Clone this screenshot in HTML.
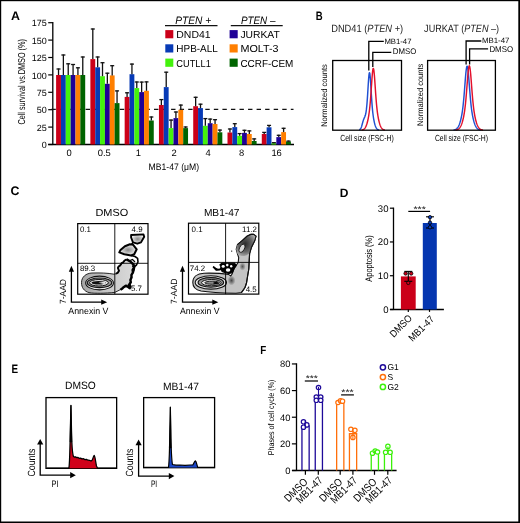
<!DOCTYPE html>
<html><head><meta charset="utf-8"><style>
html,body{margin:0;padding:0;background:#fff;}
svg{display:block;will-change:transform;}
text{font-family:"Liberation Sans", sans-serif;text-rendering:geometricPrecision;}
</style></head><body>
<svg width="520" height="523" viewBox="0 0 520 523">
<rect x="0" y="0" width="520" height="523" fill="#000"/>
<rect x="1.2" y="1.2" width="517.1" height="520.3" fill="#fff"/>
<text x="11" y="20.2" font-size="12.4" text-anchor="start" font-weight="bold" fill="#000" >A</text>
<line x1="52.8" y1="22.0" x2="52.8" y2="145.1" stroke="#000" stroke-width="1.3"/>
<line x1="48.2" y1="144.5" x2="294" y2="144.5" stroke="#000" stroke-width="1.3"/>
<line x1="48.2" y1="144.50" x2="52.8" y2="144.50" stroke="#000" stroke-width="1.2"/>
<text x="46.8" y="148.2" font-size="9.0" text-anchor="end" >0</text>
<line x1="48.2" y1="127.10" x2="52.8" y2="127.10" stroke="#000" stroke-width="1.2"/>
<text x="46.8" y="130.79999999999998" font-size="9.0" text-anchor="end" >25</text>
<line x1="48.2" y1="109.70" x2="52.8" y2="109.70" stroke="#000" stroke-width="1.2"/>
<text x="46.8" y="113.4" font-size="9.0" text-anchor="end" >50</text>
<line x1="48.2" y1="92.30" x2="52.8" y2="92.30" stroke="#000" stroke-width="1.2"/>
<text x="46.8" y="96.00000000000001" font-size="9.0" text-anchor="end" >75</text>
<line x1="48.2" y1="74.90" x2="52.8" y2="74.90" stroke="#000" stroke-width="1.2"/>
<text x="46.8" y="78.60000000000001" font-size="9.0" text-anchor="end" >100</text>
<line x1="48.2" y1="57.50" x2="52.8" y2="57.50" stroke="#000" stroke-width="1.2"/>
<text x="46.8" y="61.2" font-size="9.0" text-anchor="end" >125</text>
<line x1="48.2" y1="40.10" x2="52.8" y2="40.10" stroke="#000" stroke-width="1.2"/>
<text x="46.8" y="43.80000000000001" font-size="9.0" text-anchor="end" >150</text>
<line x1="48.2" y1="22.70" x2="52.8" y2="22.70" stroke="#000" stroke-width="1.2"/>
<text x="46.8" y="26.400000000000002" font-size="9.0" text-anchor="end" >175</text>
<text x="20.4" y="81.85" font-size="10.0" text-anchor="middle" textLength="85.5" lengthAdjust="spacingAndGlyphs" transform="rotate(-90 20.4 81.85)" dy="4.2">Cell survival vs.DMSO (%)</text>
<text x="69.05" y="156.1" font-size="9.4" text-anchor="middle" >0</text>
<text x="104.25" y="156.1" font-size="9.4" text-anchor="middle" >0.5</text>
<text x="138.3" y="156.1" font-size="9.4" text-anchor="middle" >1</text>
<text x="174.1" y="156.1" font-size="9.4" text-anchor="middle" >2</text>
<text x="208.2" y="156.1" font-size="9.4" text-anchor="middle" >4</text>
<text x="241.6" y="156.1" font-size="9.4" text-anchor="middle" >8</text>
<text x="276.6" y="156.1" font-size="9.4" text-anchor="middle" >16</text>
<text x="173.8" y="170.2" font-size="9.3" text-anchor="middle" textLength="50.5" lengthAdjust="spacingAndGlyphs" >MB1-47 (μM)</text>
<line x1="51.4" y1="109.45" x2="293.5" y2="109.45" stroke="#111" stroke-width="1.2" stroke-dasharray="4.4 4.15"/>
<rect x="56.10" y="75.0" width="4.85" height="69.50" fill="#cb0019"/>
<rect x="60.95" y="75.0" width="4.85" height="69.50" fill="#073ab6"/>
<rect x="65.80" y="75.0" width="4.85" height="69.50" fill="#44f20c"/>
<rect x="70.65" y="75.0" width="4.85" height="69.50" fill="#1e0096"/>
<rect x="75.50" y="75.0" width="4.85" height="69.50" fill="#ff7f00"/>
<rect x="80.35" y="75.0" width="4.85" height="69.50" fill="#006400"/>
<rect x="90.38" y="59.1" width="4.85" height="85.40" fill="#cb0019"/>
<rect x="95.23" y="67.3" width="4.85" height="77.20" fill="#073ab6"/>
<rect x="100.08" y="76.2" width="4.85" height="68.30" fill="#44f20c"/>
<rect x="104.93" y="83.8" width="4.85" height="60.70" fill="#1e0096"/>
<rect x="109.78" y="75.4" width="4.85" height="69.10" fill="#ff7f00"/>
<rect x="114.63" y="103.1" width="4.85" height="41.40" fill="#006400"/>
<rect x="124.66" y="96.9" width="4.85" height="47.60" fill="#cb0019"/>
<rect x="129.51" y="74.2" width="4.85" height="70.30" fill="#073ab6"/>
<rect x="134.36" y="88.1" width="4.85" height="56.40" fill="#44f20c"/>
<rect x="139.21" y="92.1" width="4.85" height="52.40" fill="#1e0096"/>
<rect x="144.06" y="90.8" width="4.85" height="53.70" fill="#ff7f00"/>
<rect x="148.91" y="120.5" width="4.85" height="24.00" fill="#006400"/>
<rect x="158.94" y="105.0" width="4.85" height="39.50" fill="#cb0019"/>
<rect x="163.79" y="87.1" width="4.85" height="57.40" fill="#073ab6"/>
<rect x="168.64" y="128.1" width="4.85" height="16.40" fill="#44f20c"/>
<rect x="173.49" y="118.1" width="4.85" height="26.40" fill="#1e0096"/>
<rect x="178.34" y="109.8" width="4.85" height="34.70" fill="#ff7f00"/>
<rect x="183.19" y="128.1" width="4.85" height="16.40" fill="#006400"/>
<rect x="193.22" y="106.2" width="4.85" height="38.30" fill="#cb0019"/>
<rect x="198.07" y="108.1" width="4.85" height="36.40" fill="#073ab6"/>
<rect x="202.92" y="125.8" width="4.85" height="18.70" fill="#44f20c"/>
<rect x="207.77" y="123.2" width="4.85" height="21.30" fill="#1e0096"/>
<rect x="212.62" y="124.0" width="4.85" height="20.50" fill="#ff7f00"/>
<rect x="217.47" y="132.3" width="4.85" height="12.20" fill="#006400"/>
<rect x="227.50" y="132.5" width="4.85" height="12.00" fill="#cb0019"/>
<rect x="232.35" y="127.1" width="4.85" height="17.40" fill="#073ab6"/>
<rect x="237.20" y="135.8" width="4.85" height="8.70" fill="#44f20c"/>
<rect x="242.05" y="132.9" width="4.85" height="11.60" fill="#1e0096"/>
<rect x="246.90" y="134.0" width="4.85" height="10.50" fill="#ff7f00"/>
<rect x="251.75" y="141.0" width="4.85" height="3.50" fill="#006400"/>
<rect x="261.78" y="134.0" width="4.85" height="10.50" fill="#cb0019"/>
<rect x="266.63" y="127.3" width="4.85" height="17.20" fill="#073ab6"/>
<rect x="271.48" y="143.2" width="4.85" height="1.30" fill="#44f20c"/>
<rect x="276.33" y="137.1" width="4.85" height="7.40" fill="#1e0096"/>
<rect x="281.18" y="132.1" width="4.85" height="12.40" fill="#ff7f00"/>
<rect x="286.03" y="141.5" width="4.85" height="3.00" fill="#006400"/>
<line x1="58.52" y1="68.5" x2="58.52" y2="75.0" stroke="#111" stroke-width="1.3"/>
<line x1="56.52" y1="69.0" x2="60.52" y2="69.0" stroke="#111" stroke-width="1.3"/>
<line x1="63.38" y1="54.5" x2="63.38" y2="75.0" stroke="#111" stroke-width="1.3"/>
<line x1="61.38" y1="55.0" x2="65.38" y2="55.0" stroke="#111" stroke-width="1.3"/>
<line x1="68.22" y1="63.3" x2="68.22" y2="75.0" stroke="#111" stroke-width="1.3"/>
<line x1="66.22" y1="63.8" x2="70.22" y2="63.8" stroke="#111" stroke-width="1.3"/>
<line x1="73.08" y1="64.0" x2="73.08" y2="75.0" stroke="#111" stroke-width="1.3"/>
<line x1="71.08" y1="64.5" x2="75.08" y2="64.5" stroke="#111" stroke-width="1.3"/>
<line x1="77.92" y1="67.3" x2="77.92" y2="75.0" stroke="#111" stroke-width="1.3"/>
<line x1="75.92" y1="67.8" x2="79.92" y2="67.8" stroke="#111" stroke-width="1.3"/>
<line x1="82.77" y1="56.5" x2="82.77" y2="75.0" stroke="#111" stroke-width="1.3"/>
<line x1="80.77" y1="57.0" x2="84.77" y2="57.0" stroke="#111" stroke-width="1.3"/>
<line x1="92.80" y1="28.5" x2="92.80" y2="59.1" stroke="#111" stroke-width="1.3"/>
<line x1="90.80" y1="29.0" x2="94.80" y2="29.0" stroke="#111" stroke-width="1.3"/>
<line x1="97.65" y1="56.5" x2="97.65" y2="67.3" stroke="#111" stroke-width="1.3"/>
<line x1="95.65" y1="57.0" x2="99.65" y2="57.0" stroke="#111" stroke-width="1.3"/>
<line x1="102.50" y1="62.2" x2="102.50" y2="76.2" stroke="#111" stroke-width="1.3"/>
<line x1="100.50" y1="62.7" x2="104.50" y2="62.7" stroke="#111" stroke-width="1.3"/>
<line x1="107.35" y1="72.7" x2="107.35" y2="83.8" stroke="#111" stroke-width="1.3"/>
<line x1="105.35" y1="73.2" x2="109.35" y2="73.2" stroke="#111" stroke-width="1.3"/>
<line x1="112.20" y1="65.2" x2="112.20" y2="75.4" stroke="#111" stroke-width="1.3"/>
<line x1="110.20" y1="65.7" x2="114.20" y2="65.7" stroke="#111" stroke-width="1.3"/>
<line x1="117.05" y1="90.4" x2="117.05" y2="103.1" stroke="#111" stroke-width="1.3"/>
<line x1="115.05" y1="90.9" x2="119.05" y2="90.9" stroke="#111" stroke-width="1.3"/>
<line x1="127.08" y1="92.3" x2="127.08" y2="96.9" stroke="#111" stroke-width="1.3"/>
<line x1="125.08" y1="92.8" x2="129.08" y2="92.8" stroke="#111" stroke-width="1.3"/>
<line x1="131.94" y1="63.6" x2="131.94" y2="74.2" stroke="#111" stroke-width="1.3"/>
<line x1="129.94" y1="64.1" x2="133.94" y2="64.1" stroke="#111" stroke-width="1.3"/>
<line x1="136.78" y1="81.5" x2="136.78" y2="88.1" stroke="#111" stroke-width="1.3"/>
<line x1="134.78" y1="82.0" x2="138.78" y2="82.0" stroke="#111" stroke-width="1.3"/>
<line x1="141.64" y1="81.6" x2="141.64" y2="92.1" stroke="#111" stroke-width="1.3"/>
<line x1="139.64" y1="82.1" x2="143.64" y2="82.1" stroke="#111" stroke-width="1.3"/>
<line x1="146.49" y1="81.4" x2="146.49" y2="90.8" stroke="#111" stroke-width="1.3"/>
<line x1="144.49" y1="81.9" x2="148.49" y2="81.9" stroke="#111" stroke-width="1.3"/>
<line x1="151.34" y1="116.5" x2="151.34" y2="120.5" stroke="#111" stroke-width="1.3"/>
<line x1="149.34" y1="117.0" x2="153.34" y2="117.0" stroke="#111" stroke-width="1.3"/>
<line x1="161.37" y1="99.1" x2="161.37" y2="105.0" stroke="#111" stroke-width="1.3"/>
<line x1="159.37" y1="99.6" x2="163.37" y2="99.6" stroke="#111" stroke-width="1.3"/>
<line x1="166.22" y1="71.7" x2="166.22" y2="87.1" stroke="#111" stroke-width="1.3"/>
<line x1="164.22" y1="72.2" x2="168.22" y2="72.2" stroke="#111" stroke-width="1.3"/>
<line x1="171.06" y1="119.6" x2="171.06" y2="128.1" stroke="#111" stroke-width="1.3"/>
<line x1="169.06" y1="120.1" x2="173.06" y2="120.1" stroke="#111" stroke-width="1.3"/>
<line x1="175.92" y1="111.5" x2="175.92" y2="118.1" stroke="#111" stroke-width="1.3"/>
<line x1="173.92" y1="112.0" x2="177.92" y2="112.0" stroke="#111" stroke-width="1.3"/>
<line x1="180.77" y1="104.6" x2="180.77" y2="109.8" stroke="#111" stroke-width="1.3"/>
<line x1="178.77" y1="105.1" x2="182.77" y2="105.1" stroke="#111" stroke-width="1.3"/>
<line x1="185.62" y1="126.5" x2="185.62" y2="128.1" stroke="#111" stroke-width="1.3"/>
<line x1="183.62" y1="127.0" x2="187.62" y2="127.0" stroke="#111" stroke-width="1.3"/>
<line x1="195.65" y1="96.8" x2="195.65" y2="106.2" stroke="#111" stroke-width="1.3"/>
<line x1="193.65" y1="97.3" x2="197.65" y2="97.3" stroke="#111" stroke-width="1.3"/>
<line x1="200.50" y1="103.7" x2="200.50" y2="108.1" stroke="#111" stroke-width="1.3"/>
<line x1="198.50" y1="104.2" x2="202.50" y2="104.2" stroke="#111" stroke-width="1.3"/>
<line x1="205.34" y1="118.1" x2="205.34" y2="125.8" stroke="#111" stroke-width="1.3"/>
<line x1="203.34" y1="118.6" x2="207.34" y2="118.6" stroke="#111" stroke-width="1.3"/>
<line x1="210.20" y1="118.6" x2="210.20" y2="123.2" stroke="#111" stroke-width="1.3"/>
<line x1="208.20" y1="119.1" x2="212.20" y2="119.1" stroke="#111" stroke-width="1.3"/>
<line x1="215.05" y1="119.2" x2="215.05" y2="124.0" stroke="#111" stroke-width="1.3"/>
<line x1="213.05" y1="119.7" x2="217.05" y2="119.7" stroke="#111" stroke-width="1.3"/>
<line x1="219.90" y1="129.6" x2="219.90" y2="132.3" stroke="#111" stroke-width="1.3"/>
<line x1="217.90" y1="130.1" x2="221.90" y2="130.1" stroke="#111" stroke-width="1.3"/>
<line x1="229.93" y1="128.5" x2="229.93" y2="132.5" stroke="#111" stroke-width="1.3"/>
<line x1="227.93" y1="129.0" x2="231.93" y2="129.0" stroke="#111" stroke-width="1.3"/>
<line x1="234.78" y1="123.2" x2="234.78" y2="127.1" stroke="#111" stroke-width="1.3"/>
<line x1="232.78" y1="123.7" x2="236.78" y2="123.7" stroke="#111" stroke-width="1.3"/>
<line x1="239.62" y1="133.1" x2="239.62" y2="135.8" stroke="#111" stroke-width="1.3"/>
<line x1="237.62" y1="133.6" x2="241.62" y2="133.6" stroke="#111" stroke-width="1.3"/>
<line x1="244.48" y1="129.8" x2="244.48" y2="132.9" stroke="#111" stroke-width="1.3"/>
<line x1="242.48" y1="130.3" x2="246.48" y2="130.3" stroke="#111" stroke-width="1.3"/>
<line x1="249.33" y1="130.4" x2="249.33" y2="134.0" stroke="#111" stroke-width="1.3"/>
<line x1="247.33" y1="130.9" x2="251.33" y2="130.9" stroke="#111" stroke-width="1.3"/>
<line x1="254.18" y1="138.4" x2="254.18" y2="141.0" stroke="#111" stroke-width="1.3"/>
<line x1="252.18" y1="138.9" x2="256.18" y2="138.9" stroke="#111" stroke-width="1.3"/>
<line x1="264.21" y1="131.9" x2="264.21" y2="134.0" stroke="#111" stroke-width="1.3"/>
<line x1="262.21" y1="132.4" x2="266.21" y2="132.4" stroke="#111" stroke-width="1.3"/>
<line x1="269.06" y1="124.9" x2="269.06" y2="127.3" stroke="#111" stroke-width="1.3"/>
<line x1="267.06" y1="125.4" x2="271.06" y2="125.4" stroke="#111" stroke-width="1.3"/>
<line x1="273.91" y1="142.2" x2="273.91" y2="143.2" stroke="#111" stroke-width="1.3"/>
<line x1="271.91" y1="142.7" x2="275.91" y2="142.7" stroke="#111" stroke-width="1.3"/>
<line x1="278.76" y1="134.8" x2="278.76" y2="137.1" stroke="#111" stroke-width="1.3"/>
<line x1="276.76" y1="135.3" x2="280.76" y2="135.3" stroke="#111" stroke-width="1.3"/>
<line x1="283.61" y1="127.8" x2="283.61" y2="132.1" stroke="#111" stroke-width="1.3"/>
<line x1="281.61" y1="128.3" x2="285.61" y2="128.3" stroke="#111" stroke-width="1.3"/>
<line x1="288.46" y1="140.6" x2="288.46" y2="141.5" stroke="#111" stroke-width="1.3"/>
<line x1="286.46" y1="141.1" x2="290.46" y2="141.1" stroke="#111" stroke-width="1.3"/>
<text x="193.2" y="23.7" font-size="10.8" text-anchor="middle" font-style="italic" textLength="36" lengthAdjust="spacingAndGlyphs" >PTEN +</text>
<line x1="165" y1="25.6" x2="217.5" y2="25.6" stroke="#111" stroke-width="1.4"/>
<text x="258.2" y="23.7" font-size="10.8" text-anchor="middle" font-style="italic" textLength="34.6" lengthAdjust="spacingAndGlyphs" >PTEN –</text>
<line x1="230.8" y1="25.6" x2="282.7" y2="25.6" stroke="#111" stroke-width="1.4"/>
<rect x="165.3" y="30.1" width="8" height="8.2" fill="#cb0019"/>
<text x="176.3" y="38.1" font-size="10.2" text-anchor="start" textLength="34.3" lengthAdjust="spacingAndGlyphs" >DND41</text>
<rect x="229.6" y="30.1" width="8.1" height="8.2" fill="#1e0096"/>
<text x="240.4" y="38.1" font-size="10.2" text-anchor="start" textLength="39.4" lengthAdjust="spacingAndGlyphs" >JURKAT</text>
<rect x="165.3" y="44.3" width="8" height="8.2" fill="#073ab6"/>
<text x="176.3" y="52.3" font-size="10.2" text-anchor="start" textLength="41.5" lengthAdjust="spacingAndGlyphs" >HPB-ALL</text>
<rect x="229.6" y="44.3" width="8.1" height="8.2" fill="#ff7f00"/>
<text x="240.4" y="52.3" font-size="10.2" text-anchor="start" textLength="38.2" lengthAdjust="spacingAndGlyphs" >MOLT-3</text>
<rect x="165.3" y="58.6" width="8" height="8.2" fill="#44f20c"/>
<text x="176.3" y="66.6" font-size="10.2" text-anchor="start" textLength="34.5" lengthAdjust="spacingAndGlyphs" >CUTLL1</text>
<rect x="229.6" y="58.6" width="8.1" height="8.2" fill="#006400"/>
<text x="240.4" y="66.6" font-size="10.2" text-anchor="start" textLength="53.0" lengthAdjust="spacingAndGlyphs" >CCRF-CEM</text>
<text x="315.8" y="19.6" font-size="12.2" text-anchor="start" font-weight="bold" fill="#000" textLength="6.9" lengthAdjust="spacingAndGlyphs" >B</text>
<text x="331.2" y="32.1" font-size="10.5" fill="#222" textLength="72" lengthAdjust="spacingAndGlyphs">DND41 (<tspan font-style="italic">PTEN</tspan> +)</text>
<text x="424.1" y="32.0" font-size="10.5" fill="#222" textLength="75" lengthAdjust="spacingAndGlyphs">JURKAT (<tspan font-style="italic">PTEN</tspan> –)</text>
<polyline points="359.15,129.99 359.40,129.89 359.65,129.76 359.90,129.58 360.15,129.34 360.40,129.03 360.65,128.64 360.90,128.16 361.15,127.59 361.40,126.92 361.65,126.17 361.90,125.34 362.15,124.46 362.40,123.54 362.65,122.63 362.90,121.73 363.15,120.89 363.40,120.10 363.65,119.40 363.90,118.76 364.15,118.18 364.40,117.64 364.65,117.09 364.90,116.51 365.15,115.84 365.40,115.03 365.65,114.04 365.90,112.81 366.15,111.29 366.40,109.43 366.65,107.18 366.90,104.51 367.15,101.41 367.40,97.92 367.65,94.09 367.90,90.05 368.15,85.97 368.40,82.05 368.65,78.54 368.90,75.67 369.15,73.67 369.40,72.68 369.65,72.80 369.90,74.00 370.15,76.21 370.40,79.24 370.65,82.89 370.90,86.90 371.15,91.06 371.40,95.17 371.65,99.07 371.90,102.66 372.15,105.90 372.40,108.78 372.65,111.31 372.90,113.54 373.15,115.50 373.40,117.23 373.65,118.78 373.90,120.17 374.15,121.42 374.40,122.55 374.65,123.57 374.90,124.48 375.15,125.30 375.40,126.03 375.65,126.68 375.90,127.24 376.15,127.73 376.40,128.15 376.65,128.52 376.90,128.83 377.15,129.08 377.40,129.30 377.65,129.48 377.90,129.63 378.15,129.75 378.40,129.85 378.65,129.92 378.90,129.99 379.15,130.04" fill="none" stroke="#1f50d2" stroke-width="1.45" stroke-linejoin="round"/>
<polyline points="361.65,130.04 361.90,129.99 362.15,129.94 362.40,129.88 362.65,129.81 362.90,129.72 363.15,129.62 363.40,129.50 363.65,129.35 363.90,129.18 364.15,128.98 364.40,128.75 364.65,128.48 364.90,128.17 365.15,127.82 365.40,127.42 365.65,126.97 365.90,126.46 366.15,125.90 366.40,125.27 366.65,124.57 366.90,123.81 367.15,122.97 367.40,122.06 367.65,121.06 367.90,119.97 368.15,118.78 368.40,117.48 368.65,116.05 368.90,114.47 369.15,112.73 369.40,110.79 369.65,108.64 369.90,106.24 370.15,103.58 370.40,100.65 370.65,97.46 370.90,94.05 371.15,90.46 371.40,86.77 371.65,83.09 371.90,79.54 372.15,76.26 372.40,73.39 372.65,71.08 372.90,69.43 373.15,68.55 373.40,68.47 373.65,69.19 373.90,70.69 374.15,72.88 374.40,75.65 374.65,78.85 374.90,82.36 375.15,86.03 375.40,89.73 375.65,93.34 375.90,96.80 376.15,100.03 376.40,103.01 376.65,105.73 376.90,108.18 377.15,110.38 377.40,112.36 377.65,114.14 377.90,115.75 378.15,117.20 378.40,118.53 378.65,119.74 378.90,120.85 379.15,121.87 379.40,122.80 379.65,123.65 379.90,124.43 380.15,125.14 380.40,125.78 380.65,126.35 380.90,126.87 381.15,127.33 381.40,127.74 381.65,128.10 381.90,128.42 382.15,128.69 382.40,128.93 382.65,129.14 382.90,129.32 383.15,129.47 383.40,129.60 383.65,129.70 383.90,129.80 384.15,129.87 384.40,129.93 384.65,129.99 384.90,130.03" fill="none" stroke="#e3102c" stroke-width="1.45" stroke-linejoin="round"/>
<polyline points="453.55,130.02 453.80,129.99 454.05,129.94 454.30,129.89 454.55,129.83 454.80,129.76 455.05,129.68 455.30,129.58 455.55,129.47 455.80,129.34 456.05,129.20 456.30,129.03 456.55,128.84 456.80,128.62 457.05,128.37 457.30,128.10 457.55,127.79 457.80,127.44 458.05,127.06 458.30,126.63 458.55,126.17 458.80,125.65 459.05,125.09 459.30,124.48 459.55,123.81 459.80,123.09 460.05,122.31 460.30,121.47 460.55,120.57 460.80,119.59 461.05,118.53 461.30,117.39 461.55,116.15 461.80,114.81 462.05,113.35 462.30,111.75 462.55,110.00 462.80,108.08 463.05,105.98 463.30,103.69 463.55,101.19 463.80,98.50 464.05,95.61 464.30,92.57 464.55,89.39 464.80,86.14 465.05,82.87 465.30,79.66 465.55,76.61 465.80,73.79 466.05,71.30 466.30,69.24 466.55,67.66 466.80,66.64 467.05,66.21 467.30,66.40 467.55,67.18 467.80,68.54 468.05,70.42 468.30,72.75 468.55,75.45 468.80,78.42 469.05,81.58 469.30,84.83 469.55,88.10 469.80,91.31 470.05,94.41 470.30,97.36 470.55,100.14 470.80,102.71 471.05,105.09 471.30,107.26 471.55,109.25 471.80,111.07 472.05,112.73 472.30,114.24 472.55,115.63 472.80,116.91 473.05,118.09 473.30,119.17 473.55,120.18 473.80,121.12 474.05,121.99 474.30,122.79 474.55,123.53 474.80,124.22 475.05,124.85 475.30,125.43 475.55,125.97 475.80,126.45 476.05,126.89 476.30,127.29 476.55,127.65 476.80,127.98 477.05,128.27 477.30,128.52 477.55,128.75 477.80,128.95 478.05,129.13 478.30,129.29 478.55,129.42 478.80,129.54 479.05,129.64 479.30,129.73 479.55,129.80 479.80,129.87 480.05,129.92 480.30,129.97 480.55,130.01 480.80,130.04" fill="none" stroke="#1f50d2" stroke-width="1.45" stroke-linejoin="round"/>
<polyline points="455.55,130.05 455.80,130.02 456.05,129.98 456.30,129.93 456.55,129.88 456.80,129.82 457.05,129.74 457.30,129.66 457.55,129.56 457.80,129.44 458.05,129.31 458.30,129.16 458.55,128.98 458.80,128.79 459.05,128.56 459.30,128.31 459.55,128.02 459.80,127.71 460.05,127.35 460.30,126.96 460.55,126.52 460.80,126.04 461.05,125.52 461.30,124.94 461.55,124.31 461.80,123.63 462.05,122.90 462.30,122.10 462.55,121.24 462.80,120.31 463.05,119.31 463.30,118.24 463.55,117.07 463.80,115.81 464.05,114.43 464.30,112.93 464.55,111.29 464.80,109.50 465.05,107.53 465.30,105.38 465.55,103.03 465.80,100.48 466.05,97.73 466.30,94.80 466.55,91.70 466.80,88.49 467.05,85.20 467.30,81.92 467.55,78.72 467.80,75.68 468.05,72.91 468.30,70.48 468.55,68.50 468.80,67.02 469.05,66.11 469.30,65.80 469.55,66.11 469.80,67.02 470.05,68.50 470.30,70.48 470.55,72.91 470.80,75.68 471.05,78.72 471.30,81.92 471.55,85.20 471.80,88.49 472.05,91.70 472.30,94.80 472.55,97.73 472.80,100.48 473.05,103.03 473.30,105.38 473.55,107.53 473.80,109.50 474.05,111.29 474.30,112.93 474.55,114.43 474.80,115.81 475.05,117.07 475.30,118.24 475.55,119.31 475.80,120.31 476.05,121.24 476.30,122.10 476.55,122.90 476.80,123.63 477.05,124.31 477.30,124.94 477.55,125.52 477.80,126.04 478.05,126.52 478.30,126.96 478.55,127.35 478.80,127.71 479.05,128.02 479.30,128.31 479.55,128.56 479.80,128.79 480.05,128.98 480.30,129.16 480.55,129.31 480.80,129.44 481.05,129.56 481.30,129.66 481.55,129.74 481.80,129.82 482.05,129.88 482.30,129.93 482.55,129.98 482.80,130.02 483.05,130.05" fill="none" stroke="#e3102c" stroke-width="1.45" stroke-linejoin="round"/>
<rect x="332.7" y="60.5" width="68.80000000000001" height="69.7" fill="none" stroke="#000" stroke-width="1.3"/>
<rect x="427.6" y="60.5" width="67.79999999999995" height="69.7" fill="none" stroke="#000" stroke-width="1.3"/>
<path d="M368.8 70.6 L368.8 41.4 L383.8 41.4" fill="none" stroke="#000" stroke-width="1.3"/>
<path d="M372.8 66.9 L372.8 52.4 L391.3 52.4" fill="none" stroke="#000" stroke-width="1.3"/>
<path d="M466.1 64.4 L466.1 41.0 L481.3 41.0" fill="none" stroke="#000" stroke-width="1.3"/>
<path d="M469.6 64.4 L469.6 48.8 L488.1 48.8" fill="none" stroke="#000" stroke-width="1.3"/>
<text x="384.4" y="44.2" font-size="7.8" text-anchor="start" textLength="27.1" lengthAdjust="spacingAndGlyphs" >MB1-47</text>
<text x="392.75" y="53.5" font-size="8.2" text-anchor="start" textLength="23.5" lengthAdjust="spacingAndGlyphs" >DMSO</text>
<text x="481.9" y="42.5" font-size="7.8" text-anchor="start" textLength="27.5" lengthAdjust="spacingAndGlyphs" >MB1-47</text>
<text x="489.4" y="52.1" font-size="8.4" text-anchor="start" textLength="23.7" lengthAdjust="spacingAndGlyphs" >DMSO</text>
<text x="323.8" y="95.5" font-size="8.2" text-anchor="middle" textLength="62.7" lengthAdjust="spacingAndGlyphs" transform="rotate(-90 323.8 95.5)" dy="3">Normalized counts</text>
<text x="420.0" y="94.8" font-size="8.2" text-anchor="middle" textLength="62.3" lengthAdjust="spacingAndGlyphs" transform="rotate(-90 420.0 94.8)" dy="3">Normalized counts</text>
<text x="367" y="141.0" font-size="8.8" text-anchor="middle" textLength="53.7" lengthAdjust="spacingAndGlyphs" >Cell size (FSC-H)</text>
<text x="461.5" y="140.7" font-size="8.8" text-anchor="middle" textLength="53.1" lengthAdjust="spacingAndGlyphs" >Cell size (FSC-H)</text>
<text x="10.6" y="195.2" font-size="12.4" text-anchor="start" font-weight="bold" fill="#000" >C</text>
<text x="111.8" y="216.0" font-size="10.3" text-anchor="middle" textLength="32.8" lengthAdjust="spacingAndGlyphs" >DMSO</text>
<rect x="77.7" y="223.6" width="70.3" height="70.6" fill="none" stroke="#000" stroke-width="1.2"/>
<text x="221.7" y="216.0" font-size="10.3" text-anchor="middle" textLength="35.6" lengthAdjust="spacingAndGlyphs" >MB1-47</text>
<rect x="188.5" y="223.2" width="70.30000000000001" height="70.90000000000003" fill="none" stroke="#000" stroke-width="1.2"/>
<defs><radialGradient id="gb"><stop offset="0" stop-color="#8a8a8a"/><stop offset="0.75" stop-color="#d8d8d8"/><stop offset="1" stop-color="#fbfbfb"/></radialGradient><radialGradient id="gr" cx="0.45" cy="0.35" r="0.7"><stop offset="0" stop-color="#b8b8b8"/><stop offset="1" stop-color="#f0f0f0"/></radialGradient><linearGradient id="gl" x1="0" y1="0" x2="1" y2="0"><stop offset="0" stop-color="#a4a4a4"/><stop offset="0.45" stop-color="#c6c6c6"/><stop offset="1" stop-color="#dadada"/></linearGradient><linearGradient id="gm" x1="0" y1="0" x2="0" y2="1"><stop offset="0" stop-color="#3a3a3a"/><stop offset="0.35" stop-color="#8a8a8a"/><stop offset="0.6" stop-color="#aaa"/><stop offset="1" stop-color="#e8e8e8"/></linearGradient></defs>
<path d="M81.5 282.6 C81.5 277 86 273.2 92 273.0 C100 272.8 108 273 114 274.2 L117.6 273.4 L119.0 270.8 L117.9 268.0 L120.2 265.4 L123.2 262.4 L126.7 259.4 L129.9 261.2 L134.0 266.7 L132.8 272.3 L131.0 277.3 L130.4 282.2 L129.2 284.7 L129.8 287.6 L126.7 286.6 L123.6 287.2 L120.4 289.6 L114.9 292.4 C105 293.4 95 293.6 89 292.6 C84 291.2 81.5 287.5 81.5 282.6 Z" fill="url(#gl)" stroke="#111" stroke-width="0.9"/>
<path d="M126.7 259.4 L129.9 261.2 L133.6 264.5 L134.0 267.2 L132.6 270 L133 272.3 L131.4 275 L131.6 277.3 L130.4 280 L130.8 282.2 L129.4 284.2 L130.4 286.4 L129.8 288.2 L127.6 286.6 L125.8 285.6 L123.6 287.2 L122 288.8 L120.4 289.8" fill="none" stroke="#000" stroke-width="2.4" stroke-linejoin="round"/>
<path d="M132.2 266 L134.6 266.8 L134.0 270.4 L132.8 272.8" fill="none" stroke="#000" stroke-width="1.6"/>
<path d="M127.5 284.5 L130 283.5 L131.2 286.8 L129.2 288.6 Z" fill="#000"/>
<path d="M126.7 259.4 L124.5 260.5 L123.2 262.4 L121.5 263.2 L120.2 265.4 L118.6 266.5 L117.9 268.0 L119.0 270.8 L117.8 272.6 L116 273.8" fill="none" stroke="#000" stroke-width="1.9" stroke-linejoin="round"/>
<ellipse cx="99.55" cy="283.0" rx="13.9" ry="6.9" fill="#e6e6e6" stroke="#111" stroke-width="1.1"/>
<ellipse cx="99.5" cy="282.8" rx="12.3" ry="4.8" fill="#9a9a9a" stroke="#111" stroke-width="1.1"/>
<ellipse cx="98.95" cy="282.75" rx="9.45" ry="3.25" fill="#e8e8e8" stroke="#111" stroke-width="1.0"/>
<ellipse cx="98.6" cy="282.8" rx="7.1" ry="1.8" fill="#111"/>
<path d="M98.5 282.8 L105.2 281.4 L105.2 284.2 Z" fill="#e0e0e0"/>
<path d="M131.1 235 L143.5 234.4 L144.2 236.8 L141 242.4 L137.3 243.7 L133 242.4 L131.1 237.5 Z" fill="url(#gb)" stroke="#000" stroke-width="1.9" stroke-linejoin="round"/>
<path d="M129.9 244.3 L133 244.7 L136.7 249.3 L134.2 254.3 L131.1 255.5 L124.3 254.3 L119.3 252.4 L120.5 249.9 L124.9 246.2 Z" fill="url(#gb)" stroke="#000" stroke-width="2.0" stroke-linejoin="round"/>
<path d="M133 242.4 L131.5 244.5" stroke="#000" stroke-width="1.6"/>
<path d="M131.1 255.5 L135 256.5 L137.6 258.3 L138 262 L136.5 265 L134.5 266.5" fill="none" stroke="#000" stroke-width="1.6" stroke-linejoin="round"/>
<path d="M130 260.5 L132.5 259.5 L135 262" fill="none" stroke="#000" stroke-width="1.2"/>
<defs><radialGradient id="gu" cx="0.45" cy="0.45" r="0.6"><stop offset="0" stop-color="#2a2a2a"/><stop offset="0.6" stop-color="#666"/><stop offset="1" stop-color="#b0b0b0"/></radialGradient><radialGradient id="gd" cx="0.5" cy="0.5" r="0.5"><stop offset="0" stop-color="#3a3a3a"/><stop offset="1" stop-color="#3a3a3a" stop-opacity="0"/></radialGradient></defs>
<path d="M192.8 282.5 C192.8 277 197 273.4 204 273.2 C213 273 222 273.4 228.5 274.4 L230.8 276.0 L232.2 273.8 L233.2 270.8 L234.2 268.3 L236.2 265.4 L238.2 262.4 L238.7 257.5 L237.4 253.6 L236.2 249.2 L237.4 244.7 L241.9 240.8 L247 236.3 L250.9 234.4 L253.5 234.2 L256 236.3 L254.7 240.8 L251.5 247.2 L249.6 253.6 L249.2 261.3 L248.8 269 L247.6 276.2 L246.5 283.0 L245.1 287.2 L243.2 290.2 L241.4 292.6 L236 293.2 C225 293.0 210 292.4 201 291.0 C195.5 289.9 192.8 287 192.8 282.5 Z" fill="#c4c4c4" stroke="#111" stroke-width="1.1"/>
<path d="M237.4 244.7 L241.9 240.8 L247 236.3 L250.9 234.4 L253.5 234.2 L256 236.3 L254.7 240.8 L251.5 247.2 L249.6 253.6 C246 256.5 241 256.5 238.5 255 L237.4 253.6 L236.2 249.2 Z" fill="url(#gu)"/>
<path d="M237.4 244.7 L241.9 240.8 L247 236.3 L250.9 234.4 L253.5 234.2 L256 236.3 L254.7 240.8 L251.5 247.2 L249.6 253.6 L249.2 261.3 L248.8 269 L247.6 276.2 L246.5 283.0 L245.1 287.2 L243.2 290.2 L241.4 292.6" fill="none" stroke="#111" stroke-width="1.1"/>
<ellipse cx="242.0" cy="248.3" rx="2.4" ry="4.4" transform="rotate(25 242 248.3)" fill="#d8d8d8" stroke="#111" stroke-width="0.8"/>
<ellipse cx="242.5" cy="266.5" rx="3.2" ry="4.2" fill="url(#gd)" opacity="0.8"/>
<ellipse cx="231.5" cy="280.5" rx="4" ry="5" fill="url(#gd)" opacity="0.9"/>
<circle cx="231.7" cy="251.1" r="0.7" fill="#000"/>
<ellipse cx="210.85" cy="282.4" rx="15.65" ry="6.7" fill="#e6e6e6" stroke="#111" stroke-width="1.1"/>
<ellipse cx="210.85" cy="282.4" rx="12.75" ry="4.8" fill="#9a9a9a" stroke="#111" stroke-width="1.1"/>
<ellipse cx="211.35" cy="282.65" rx="9.85" ry="3.15" fill="#e8e8e8" stroke="#111" stroke-width="1.0"/>
<ellipse cx="212.25" cy="282.75" rx="7.45" ry="1.55" fill="#8a8a8a" stroke="#111" stroke-width="0.9"/>
<ellipse cx="215.8" cy="283.1" rx="2.6" ry="1.0" fill="#000"/>
<path d="M213.2 266.6 L216.6 269.8 L220.2 269.6 L221.0 267.0 L220.0 264.8 L222 263.2 L234.5 263.2 L236.2 265.4 L234.2 268.3 L233.2 270.8 L232.4 272.6 L229 273.4 L225.5 272.6 L222.5 271.6 L221.2 270.6" fill="#000" stroke="#000" stroke-width="1.2" stroke-linejoin="round"/>
<path d="M213.2 266.6 L216.2 269.8 L220 269.4" fill="none" stroke="#000" stroke-width="1.8"/>
<ellipse cx="223.2" cy="266.4" rx="1.6" ry="1.3" fill="#fff"/><circle cx="227.2" cy="265.1" r="1.3" fill="#fff"/><circle cx="231.2" cy="266.3" r="1.2" fill="#fff"/><ellipse cx="228.0" cy="270.0" rx="2.4" ry="1.7" fill="#fff"/>
<line x1="114.8" y1="223.6" x2="114.8" y2="294.2" stroke="#000" stroke-width="0.9"/>
<line x1="77.7" y1="263.3" x2="148.0" y2="263.3" stroke="#000" stroke-width="0.9"/>
<line x1="225.6" y1="223.2" x2="225.6" y2="294.1" stroke="#000" stroke-width="0.9"/>
<line x1="188.5" y1="262.4" x2="258.8" y2="262.4" stroke="#000" stroke-width="0.9"/>
<text x="79.9" y="231.9" font-size="7.9" text-anchor="start" >0.1</text>
<text x="142.6" y="232.0" font-size="7.9" text-anchor="end" >4.9</text>
<text x="79.9" y="271.1" font-size="7.9" text-anchor="start" >89.3</text>
<text x="141.9" y="290.8" font-size="7.9" text-anchor="end" >5.7</text>
<text x="191.6" y="232.0" font-size="7.9" text-anchor="start" >0.1</text>
<text x="256.9" y="232.0" font-size="7.9" text-anchor="end" >11.2</text>
<text x="189.8" y="270.9" font-size="7.9" text-anchor="start" >74.2</text>
<text x="256.7" y="291.8" font-size="7.9" text-anchor="end" >4.5</text>
<path d="M71.4 269.8 L71.4 302.2 L103.2 302.2" fill="none" stroke="#000" stroke-width="1.3"/>
<path d="M68.80000000000001 271.8 L71.4 265.8 L74.0 271.8 Z" fill="#000"/>
<path d="M101.2 299.59999999999997 L107.2 302.2 L101.2 304.8 Z" fill="#000"/>
<path d="M182.5 269.8 L182.5 302.2 L214.3 302.2" fill="none" stroke="#000" stroke-width="1.3"/>
<path d="M179.9 271.8 L182.5 265.8 L185.1 271.8 Z" fill="#000"/>
<path d="M212.3 299.59999999999997 L218.3 302.2 L212.3 304.8 Z" fill="#000"/>
<text x="63.0" y="291.5" font-size="9.0" text-anchor="middle" textLength="25" lengthAdjust="spacingAndGlyphs" transform="rotate(-90 63.0 291.5)" dy="3.2">7-AAD</text>
<text x="173.4" y="291.3" font-size="9.0" text-anchor="middle" textLength="25.4" lengthAdjust="spacingAndGlyphs" transform="rotate(-90 173.4 291.3)" dy="3.2">7-AAD</text>
<text x="68.3" y="314.2" font-size="9.0" text-anchor="start" textLength="40.2" lengthAdjust="spacingAndGlyphs" >Annexin V</text>
<text x="180.0" y="314.2" font-size="9.0" text-anchor="start" textLength="39.5" lengthAdjust="spacingAndGlyphs" >Annexin V</text>
<text x="339.7" y="197.4" font-size="12.0" text-anchor="start" font-weight="bold" fill="#000" >D</text>
<line x1="393.5" y1="207.6" x2="393.5" y2="309.5" stroke="#000" stroke-width="1.3"/>
<line x1="390.1" y1="309.5" x2="443.9" y2="309.5" stroke="#000" stroke-width="1.3"/>
<line x1="389.9" y1="309.50" x2="393.5" y2="309.50" stroke="#000" stroke-width="1.2"/>
<text x="388.5" y="312.9" font-size="9.6" text-anchor="end" >0</text>
<line x1="389.9" y1="275.73" x2="393.5" y2="275.73" stroke="#000" stroke-width="1.2"/>
<text x="388.5" y="279.13" font-size="9.6" text-anchor="end" >10</text>
<line x1="389.9" y1="241.96" x2="393.5" y2="241.96" stroke="#000" stroke-width="1.2"/>
<text x="388.5" y="245.36" font-size="9.6" text-anchor="end" >20</text>
<line x1="389.9" y1="208.19" x2="393.5" y2="208.19" stroke="#000" stroke-width="1.2"/>
<text x="388.5" y="211.59" font-size="9.6" text-anchor="end" >30</text>
<text x="368.9" y="258.5" font-size="9.5" text-anchor="middle" textLength="46.5" lengthAdjust="spacingAndGlyphs" transform="rotate(-90 368.9 258.5)" dy="3.3">Apoptosis (%)</text>
<rect x="400.9" y="276.4" width="14.8" height="33.1" fill="#cb0019"/>
<rect x="422.8" y="223.0" width="14.0" height="86.5" fill="#0536b0"/>
<line x1="408.3" y1="271.4" x2="408.3" y2="281.3" stroke="#000" stroke-width="1.1"/>
<line x1="404.3" y1="271.4" x2="412.3" y2="271.4" stroke="#000" stroke-width="1.1"/>
<line x1="404.3" y1="281.3" x2="412.3" y2="281.3" stroke="#000" stroke-width="1.1"/>
<line x1="430.0" y1="216.8" x2="430.0" y2="228.0" stroke="#000" stroke-width="1.1"/>
<line x1="426.0" y1="216.8" x2="434.0" y2="216.8" stroke="#000" stroke-width="1.1"/>
<line x1="426.0" y1="228.0" x2="434.0" y2="228.0" stroke="#000" stroke-width="1.1"/>
<circle cx="405.6" cy="273.5" r="1.7" fill="#d0021b" stroke="#000" stroke-width="0.8"/>
<circle cx="411.2" cy="273.5" r="1.7" fill="#d0021b" stroke="#000" stroke-width="0.8"/>
<circle cx="408.3" cy="282.9" r="1.7" fill="#d0021b" stroke="#000" stroke-width="0.8"/>
<circle cx="430" cy="217.2" r="1.7" fill="#0a3cbe" stroke="#000" stroke-width="0.8"/>
<circle cx="430" cy="222.6" r="1.7" fill="#0a3cbe" stroke="#000" stroke-width="0.8"/>
<circle cx="430" cy="227.3" r="1.7" fill="#0a3cbe" stroke="#000" stroke-width="0.8"/>
<line x1="408.3" y1="309.5" x2="408.3" y2="311.9" stroke="#000" stroke-width="1.2"/>
<line x1="429.5" y1="309.5" x2="429.5" y2="311.9" stroke="#000" stroke-width="1.2"/>
<line x1="408.3" y1="211.4" x2="430.1" y2="211.4" stroke="#000" stroke-width="1.2"/>
<text x="419.6" y="212.3" font-size="8.5" text-anchor="middle" textLength="12.4" lengthAdjust="spacingAndGlyphs" >***</text>
<text x="412.8" y="318.8" font-size="10.0" text-anchor="end" textLength="27.0" lengthAdjust="spacingAndGlyphs" transform="rotate(-45 412.8 318.8)" >DMSO</text>
<text x="434.8" y="319.8" font-size="10.0" text-anchor="end" textLength="31.5" lengthAdjust="spacingAndGlyphs" transform="rotate(-45 434.8 319.8)" >MB1-47</text>
<text x="11.6" y="372.9" font-size="12.2" text-anchor="start" font-weight="bold" fill="#000" textLength="6.6" lengthAdjust="spacingAndGlyphs" >E</text>
<rect x="46" y="397.6" width="70.65" height="70.75" fill="none" stroke="#000" stroke-width="1.3"/>
<text x="80.4" y="388.5" font-size="10.6" text-anchor="middle" textLength="30.8" lengthAdjust="spacingAndGlyphs" >DMSO</text>
<rect x="143.65" y="397.6" width="70.94999999999999" height="70.09999999999997" fill="none" stroke="#000" stroke-width="1.3"/>
<text x="180.9" y="389.5" font-size="10.6" text-anchor="middle" textLength="36.0" lengthAdjust="spacingAndGlyphs" >MB1-47</text>
<path d="M46.6 468.2 L68.9 468.2 C69.5 464 69.9 452 70.2 435 L70.95 405.3 L71.5 430 C71.8 445 72.2 453 73.4 456.2 L74.5 457.2 L75.5 456.8 L76.5 457.6 L78 457.4 L79 458.3 L80.5 458.1 L82 458.9 L83.5 458.7 L85 459.6 L86.5 459.4 L88 460.2 L89.5 460.3 L91 461.0 L92 460.4 C92.8 459.5 93.2 456.5 94.2 455.4 C95.2 456.5 95.6 462 96.5 466 L97.6 468.2 L116 468.2" fill="#d0021b" stroke="#000" stroke-width="1.25" stroke-linejoin="round"/>
<path d="M144.3 467.4 L168.5 467.4 C169.1 463 169.6 450 169.9 430 L170.35 407.2 L170.8 430 C171.1 450 171.5 460 172.5 464.5 L176 465.2 L180 465 L185 465.3 L190 465 L193 464.8 C194 463 194.5 461 195.4 460.8 C196.3 461 196.8 465 197.8 467.4 L214.5 467.4" fill="#1a46c8" stroke="#000" stroke-width="1.2" stroke-linejoin="round"/>
<path d="M70.0 442 L70.4 428 L70.95 405.3 L71.4 428 L71.8 442 Z" fill="#000" stroke="#000" stroke-width="0.6" stroke-linejoin="round"/>
<path d="M169.4 448 L169.8 430 L170.35 407.2 L170.85 430 L171.2 448 Z" fill="#000" stroke="#000" stroke-width="0.5" stroke-linejoin="round"/>
<path d="M40.2 442.9 L40.2 475.2 L71.8 475.2" fill="none" stroke="#000" stroke-width="1.3"/>
<path d="M37.1 444.5 L40.2 438.9 L43.300000000000004 444.5 Z" fill="#000"/>
<path d="M70.2 472.09999999999997 L75.8 475.2 L70.2 478.3 Z" fill="#000"/>
<path d="M138.6 443.6 L138.6 476.1 L170.4 476.1" fill="none" stroke="#000" stroke-width="1.3"/>
<path d="M135.5 445.20000000000005 L138.6 439.6 L141.7 445.20000000000005 Z" fill="#000"/>
<path d="M168.8 473.0 L174.4 476.1 L168.8 479.20000000000005 Z" fill="#000"/>
<text x="30.9" y="462.6" font-size="10.4" text-anchor="middle" textLength="27.8" lengthAdjust="spacingAndGlyphs" transform="rotate(-90 30.9 462.6)" dy="3.7">Counts</text>
<text x="129.3" y="462.6" font-size="10.4" text-anchor="middle" textLength="27.8" lengthAdjust="spacingAndGlyphs" transform="rotate(-90 129.3 462.6)" dy="3.7">Counts</text>
<text x="51.6" y="486.7" font-size="9.4" text-anchor="start" textLength="7.0" lengthAdjust="spacingAndGlyphs" >PI</text>
<text x="150.9" y="487.4" font-size="9.4" text-anchor="start" textLength="6.3" lengthAdjust="spacingAndGlyphs" >PI</text>
<text x="260.2" y="354.0" font-size="11.6" text-anchor="start" font-weight="bold" fill="#000" textLength="6.0" lengthAdjust="spacingAndGlyphs" >F</text>
<line x1="296.5" y1="363.3" x2="296.5" y2="470.5" stroke="#000" stroke-width="1.3"/>
<line x1="292.1" y1="470.5" x2="396.6" y2="470.5" stroke="#000" stroke-width="1.3"/>
<line x1="291.9" y1="470.50" x2="296.5" y2="470.50" stroke="#000" stroke-width="1.2"/>
<text x="290.4" y="473.8" font-size="9.4" text-anchor="end" >0</text>
<line x1="291.9" y1="443.86" x2="296.5" y2="443.86" stroke="#000" stroke-width="1.2"/>
<text x="290.4" y="447.16" font-size="9.4" text-anchor="end" >20</text>
<line x1="291.9" y1="417.22" x2="296.5" y2="417.22" stroke="#000" stroke-width="1.2"/>
<text x="290.4" y="420.52000000000004" font-size="9.4" text-anchor="end" >40</text>
<line x1="291.9" y1="390.58" x2="296.5" y2="390.58" stroke="#000" stroke-width="1.2"/>
<text x="290.4" y="393.88" font-size="9.4" text-anchor="end" >60</text>
<line x1="291.9" y1="363.94" x2="296.5" y2="363.94" stroke="#000" stroke-width="1.2"/>
<text x="290.4" y="367.24" font-size="9.4" text-anchor="end" >80</text>
<text x="271.2" y="417.4" font-size="8.4" text-anchor="middle" textLength="75.5" lengthAdjust="spacingAndGlyphs" transform="rotate(-90 271.2 417.4)" dy="3.2">Phases of cell cycle (%)</text>
<path d="M301.95 470.5 L301.95 426.01 L309.15000000000003 426.01 L309.15000000000003 470.5" fill="none" stroke="#1e0a9a" stroke-width="1.3"/>
<path d="M315.25 470.5 L315.25 396.31 L322.45000000000005 396.31 L322.45000000000005 470.5" fill="none" stroke="#1e0a9a" stroke-width="1.3"/>
<path d="M336.65 470.5 L336.65 401.77 L343.85 401.77 L343.85 470.5" fill="none" stroke="#ff6f0a" stroke-width="1.3"/>
<path d="M349.45 470.5 L349.45 433.74 L356.65000000000003 433.74 L356.65000000000003 470.5" fill="none" stroke="#ff6f0a" stroke-width="1.3"/>
<path d="M371.25 470.5 L371.25 453.45 L378.45000000000005 453.45 L378.45000000000005 470.5" fill="none" stroke="#3cf00a" stroke-width="1.3"/>
<path d="M384.45 470.5 L384.45 452.65 L391.65000000000003 452.65 L391.65000000000003 470.5" fill="none" stroke="#3cf00a" stroke-width="1.3"/>
<circle cx="303.5" cy="421.8" r="2.2" fill="#fff" stroke="#1e0a9a" stroke-width="1.2"/>
<circle cx="306.8" cy="424.9" r="2.2" fill="#fff" stroke="#1e0a9a" stroke-width="1.2"/>
<circle cx="303.5" cy="427.2" r="2.2" fill="#fff" stroke="#1e0a9a" stroke-width="1.2"/>
<circle cx="318.5" cy="387.5" r="2.2" fill="#fff" stroke="#1e0a9a" stroke-width="1.2"/>
<circle cx="316.3" cy="397.0" r="2.2" fill="#fff" stroke="#1e0a9a" stroke-width="1.2"/>
<circle cx="320.7" cy="397.0" r="2.2" fill="#fff" stroke="#1e0a9a" stroke-width="1.2"/>
<circle cx="316.3" cy="400.3" r="2.2" fill="#fff" stroke="#1e0a9a" stroke-width="1.2"/>
<circle cx="320.7" cy="400.3" r="2.2" fill="#fff" stroke="#1e0a9a" stroke-width="1.2"/>
<circle cx="338.0" cy="402.5" r="2.2" fill="#fff" stroke="#ff6f0a" stroke-width="1.2"/>
<circle cx="340.5" cy="400.8" r="2.2" fill="#fff" stroke="#ff6f0a" stroke-width="1.2"/>
<circle cx="342.5" cy="401.2" r="2.2" fill="#fff" stroke="#ff6f0a" stroke-width="1.2"/>
<circle cx="350.9" cy="429.3" r="2.2" fill="#fff" stroke="#ff6f0a" stroke-width="1.2"/>
<circle cx="354.9" cy="430.3" r="2.2" fill="#fff" stroke="#ff6f0a" stroke-width="1.2"/>
<circle cx="352.9" cy="437.4" r="2.2" fill="#fff" stroke="#ff6f0a" stroke-width="1.2"/>
<circle cx="372.5" cy="453.2" r="2.2" fill="#fff" stroke="#3cf00a" stroke-width="1.2"/>
<circle cx="375.2" cy="451.0" r="2.2" fill="#fff" stroke="#3cf00a" stroke-width="1.2"/>
<circle cx="377.5" cy="452.0" r="2.2" fill="#fff" stroke="#3cf00a" stroke-width="1.2"/>
<circle cx="387.9" cy="446.4" r="2.2" fill="#fff" stroke="#3cf00a" stroke-width="1.2"/>
<circle cx="385.6" cy="452.3" r="2.2" fill="#fff" stroke="#3cf00a" stroke-width="1.2"/>
<circle cx="390.1" cy="452.3" r="2.2" fill="#fff" stroke="#3cf00a" stroke-width="1.2"/>
<line x1="305.2" y1="421.0" x2="305.2" y2="428.2" stroke="#1e0a9a" stroke-width="1.1"/>
<line x1="318.5" y1="386.8" x2="318.5" y2="401.0" stroke="#1e0a9a" stroke-width="1.1"/>
<line x1="340.0" y1="400.0" x2="340.0" y2="403.5" stroke="#ff6f0a" stroke-width="1.1"/>
<line x1="352.9" y1="429.0" x2="352.9" y2="440.0" stroke="#ff6f0a" stroke-width="1.1"/>
<line x1="374.5" y1="450.5" x2="374.5" y2="454.5" stroke="#3cf00a" stroke-width="1.1"/>
<line x1="387.9" y1="446.5" x2="387.9" y2="452.8" stroke="#3cf00a" stroke-width="1.1"/>
<line x1="305.4" y1="470.5" x2="305.4" y2="474.8" stroke="#000" stroke-width="1.2"/>
<line x1="318.3" y1="470.5" x2="318.3" y2="474.8" stroke="#000" stroke-width="1.2"/>
<line x1="340.2" y1="470.5" x2="340.2" y2="474.8" stroke="#000" stroke-width="1.2"/>
<line x1="352.9" y1="470.5" x2="352.9" y2="474.8" stroke="#000" stroke-width="1.2"/>
<line x1="374.5" y1="470.5" x2="374.5" y2="474.8" stroke="#000" stroke-width="1.2"/>
<line x1="387.8" y1="470.5" x2="387.8" y2="474.8" stroke="#000" stroke-width="1.2"/>
<line x1="304.8" y1="381.0" x2="318.0" y2="381.0" stroke="#000" stroke-width="1.2"/>
<text x="311.8" y="381.3" font-size="8.5" text-anchor="middle" textLength="12.3" lengthAdjust="spacingAndGlyphs" >***</text>
<line x1="341.1" y1="394.9" x2="353.9" y2="394.9" stroke="#000" stroke-width="1.2"/>
<text x="347.5" y="395.2" font-size="8.5" text-anchor="middle" textLength="12.3" lengthAdjust="spacingAndGlyphs" >***</text>
<text x="308.4" y="482.7" font-size="10.8" text-anchor="end" textLength="28.0" lengthAdjust="spacingAndGlyphs" transform="rotate(-45 308.4 482.7)" >DMSO</text>
<text x="323.3" y="481.0" font-size="10.8" text-anchor="end" textLength="32.6" lengthAdjust="spacingAndGlyphs" transform="rotate(-45 323.3 481.0)" >MB1-47</text>
<text x="343.2" y="482.7" font-size="10.8" text-anchor="end" textLength="28.0" lengthAdjust="spacingAndGlyphs" transform="rotate(-45 343.2 482.7)" >DMSO</text>
<text x="357.9" y="481.0" font-size="10.8" text-anchor="end" textLength="32.6" lengthAdjust="spacingAndGlyphs" transform="rotate(-45 357.9 481.0)" >MB1-47</text>
<text x="377.5" y="482.7" font-size="10.8" text-anchor="end" textLength="28.0" lengthAdjust="spacingAndGlyphs" transform="rotate(-45 377.5 482.7)" >DMSO</text>
<text x="392.8" y="481.0" font-size="10.8" text-anchor="end" textLength="32.6" lengthAdjust="spacingAndGlyphs" transform="rotate(-45 392.8 481.0)" >MB1-47</text>
<circle cx="382.9" cy="367.3" r="2.6" fill="#fff" stroke="#1e0a9a" stroke-width="1.5"/>
<text x="387.5" y="370.2" font-size="8.5" text-anchor="start" >G1</text>
<circle cx="382.9" cy="377.1" r="2.6" fill="#fff" stroke="#ff6f0a" stroke-width="1.5"/>
<text x="387.5" y="380.0" font-size="8.5" text-anchor="start" >S</text>
<circle cx="382.9" cy="386.90000000000003" r="2.6" fill="#fff" stroke="#3cf00a" stroke-width="1.5"/>
<text x="387.5" y="389.8" font-size="8.5" text-anchor="start" >G2</text>
</svg>
</body></html>
